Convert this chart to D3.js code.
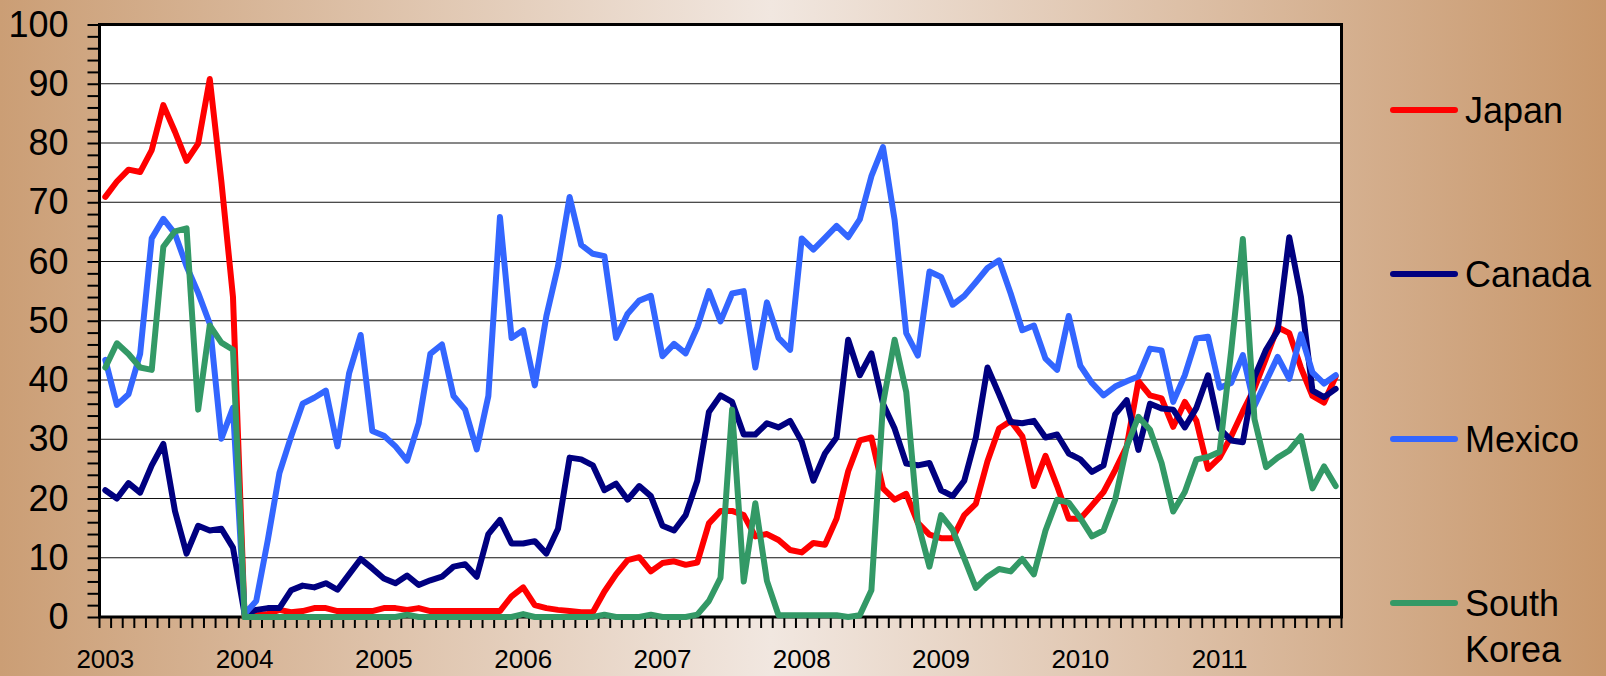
<!DOCTYPE html>
<html>
<head>
<meta charset="utf-8">
<script src="https://cdn.jsdelivr.net/npm/d3@7"></script>
<style>
  html, body { margin: 0; padding: 0; }
  body { width: 1606px; height: 676px; overflow: hidden; }
  svg { display: block; font-family: "Liberation Sans", Arial, sans-serif; }
</style>
</head>
<body>
<script>

// monthly categories, Jan 2003 .. Nov 2011
var months = d3.timeMonth.range(new Date(2003, 0, 1), new Date(2011, 11, 1));
var yearLabels = ['2003', '2004', '2005', '2006', '2007', '2008', '2009', '2010', '2011'];
var yTicks = [0, 10, 20, 30, 40, 50, 60, 70, 80, 90, 100];
var countries = ['Japan', 'Canada', 'Mexico', 'South Korea'];

var japan = [
    70.9, 73.5, 75.5, 75.1, 78.8, 86.4, 81.9, 77.0, 79.9, 90.8, 73.5, 54.0,
    0, 0.3, 0.5, 1.2, 0.8, 1.0, 1.5, 1.5, 1.0, 1.0, 1.0, 1.0,
    1.5, 1.5, 1.2, 1.5, 1.0, 1.0, 1.0, 1.0, 1.0, 1.0, 1.0, 3.5,
    5.0, 2.0, 1.5, 1.2, 1.0, 0.8, 0.8, 4.3, 7.2, 9.6, 10.1, 7.7,
    9.1, 9.4, 8.8, 9.2, 15.8, 17.9, 17.9, 17.2, 13.6, 14.0, 13.0, 11.3,
    10.9, 12.5, 12.2, 16.6, 24.6, 29.8, 30.3, 21.7, 19.8, 20.8, 15.9, 13.9,
    13.3, 13.3, 17.2, 19.1, 26.3, 31.8, 33.1, 30.5, 22.1, 27.2, 22.1, 16.6,
    16.6, 18.8, 21.1, 24.8, 28.8, 39.8, 37.4, 36.9, 32.1, 36.3, 33.1, 25.0,
    26.9, 30.5, 34.7, 38.6, 43.7, 48.9, 47.9, 42.1, 37.3, 36.2, 40.6
];

var canada = [
    21.4, 20.0, 22.6, 21.0, 25.6, 29.2, 17.9, 10.7, 15.4, 14.6, 14.9, 11.7,
    0.5, 1.2, 1.5, 1.5, 4.5, 5.3, 5.0, 5.7, 4.6, 7.2, 9.8, 8.2,
    6.5, 5.7, 7.0, 5.4, 6.2, 6.8, 8.5, 8.9, 6.8, 14.0, 16.4, 12.4,
    12.4, 12.8, 10.7, 14.9, 26.9, 26.6, 25.6, 21.4, 22.5, 19.8, 22.1, 20.4,
    15.4, 14.6, 17.2, 23.0, 34.6, 37.4, 36.3, 30.8, 30.8, 32.7, 32.0, 33.1,
    29.6, 23.0, 27.6, 30.3, 46.8, 40.8, 44.5, 36.0, 31.8, 25.9, 25.6, 26.0,
    21.4, 20.4, 23.0, 30.3, 42.1, 37.6, 32.9, 32.7, 33.1, 30.3, 30.8, 27.6,
    26.6, 24.5, 25.6, 34.2, 36.6, 28.2, 36.0, 35.2, 35.0, 32.0, 35.3, 40.8,
    31.8, 29.8, 29.5, 40.5, 45.1, 48.3, 64.1, 54.1, 38.2, 37.1, 38.5
];

var mexico = [
    43.4, 35.8, 37.6, 44.4, 63.9, 67.2, 64.7, 59.2, 54.7, 49.5, 30.1, 35.3,
    0.5, 2.7, 13.0, 24.3, 30.4, 36.0, 37.0, 38.2, 28.8, 41.1, 47.6, 31.4,
    30.6, 28.8, 26.4, 32.7, 44.4, 46.0, 37.3, 35.0, 28.3, 37.3, 67.5, 47.1,
    48.4, 39.1, 50.8, 59.2, 70.9, 62.8, 61.3, 60.9, 47.1, 51.2, 53.4, 54.2,
    44.0, 46.1, 44.5, 48.9, 55.0, 49.9, 54.6, 55.0, 42.1, 53.1, 47.1, 45.1,
    63.9, 62.0, 64.0, 66.0, 64.1, 67.1, 74.4, 79.3, 67.0, 47.9, 44.1, 58.3,
    57.4, 52.7, 54.2, 56.5, 58.9, 60.2, 54.6, 48.4, 49.2, 43.6, 41.7, 50.8,
    42.4, 39.5, 37.4, 38.9, 39.8, 40.6, 45.3, 45.0, 36.3, 40.8, 47.0, 47.3,
    38.7, 39.5, 44.2, 35.6, 39.8, 43.9, 40.2, 47.7, 41.3, 39.4, 40.8
];

var southKorea = [
    42.1, 46.2, 44.4, 42.1, 41.7, 62.5, 65.1, 65.6, 35.0, 49.2, 46.3, 45.1,
    0, 0, 0, 0, 0, 0, 0, 0, 0, 0, 0, 0,
    0, 0, 0.4, 0, 0, 0, 0, 0, 0, 0, 0, 0,
    0.5, 0, 0, 0, 0, 0, 0, 0.4, 0, 0, 0, 0.4,
    0, 0, 0, 0.4, 2.7, 6.6, 35.0, 6.0, 19.2, 6.1, 0.3, 0.3,
    0.3, 0.3, 0.3, 0.3, 0, 0.3, 4.5, 36.0, 46.8, 38.0, 15.9, 8.5,
    17.2, 14.7, 9.9, 4.9, 6.8, 8.1, 7.7, 9.8, 7.2, 14.6, 19.8, 19.3,
    16.7, 13.6, 14.6, 19.8, 28.8, 33.8, 31.6, 26.0, 17.8, 21.1, 26.6, 27.0,
    27.9, 45.0, 63.8, 33.4, 25.3, 26.9, 28.1, 30.5, 21.7, 25.4, 22.1
];

var colors = ['#ff0000', '#000080', '#3366ff', '#339966'];
var series = [japan, canada, mexico, southKorea];

var w = 1606,
    h = 676;

var plot = {left: 99.5, top: 24.5, right: 1341.5, bottom: 617};

var svg = d3.select('body')
    .append('svg')
    .attr('width', w)
    .attr('height', h);

// background gradient
var grad = svg.append('defs')
    .append('linearGradient')
    .attr('id', 'bg')
    .attr('x1', '0%').attr('x2', '100%')
    .attr('y1', '0%').attr('y2', '0%');
grad.append('stop').attr('offset', '0%').attr('stop-color', '#cb9e75');
grad.append('stop').attr('offset', '48%').attr('stop-color', '#f1e7e0');
grad.append('stop').attr('offset', '100%').attr('stop-color', '#c8976b');

svg.append('rect')
    .attr('width', w)
    .attr('height', h)
    .attr('fill', 'url(#bg)');

var x = d3.scaleBand()
    .domain(d3.range(months.length))
    .range([plot.left, plot.right]);
var bw = x.bandwidth();

var y = d3.scaleLinear()
    .domain([0, 100])
    .range([plot.bottom, plot.top]);

// plot area
svg.append('rect')
    .attr('x', plot.left)
    .attr('y', plot.top)
    .attr('width', plot.right - plot.left)
    .attr('height', plot.bottom - plot.top)
    .attr('fill', '#fff');

// gridlines
svg.append('g')
    .selectAll('line')
    .data(yTicks.slice(1, -1))
    .enter()
    .append('line')
    .attr('x1', plot.left)
    .attr('x2', plot.right)
    .attr('y1', function(d){ return y(d); })
    .attr('y2', function(d){ return y(d); })
    .attr('stroke', '#111')
    .attr('stroke-width', 1);

// y axis: minor ticks every 2, labels every 10
var yAxis = d3.axisLeft(y)
    .tickValues(d3.range(0, 101, 2))
    .tickSize(12)
    .tickPadding(19)
    .tickFormat(function(d){ return d % 10 === 0 ? d : ''; });

var yG = svg.append('g')
    .attr('transform', 'translate(' + plot.left + ',0)')
    .call(yAxis);
yG.select('.domain').remove();
yG.selectAll('line').attr('stroke', '#000').attr('stroke-width', 2);
yG.selectAll('text')
    .attr('fill', '#000')
    .style('font-size', '36px')
    .style('font-family', '"Liberation Sans", Arial, sans-serif');

// x axis ticks at month boundaries
var bounds = d3.range(months.length).map(function(i){ return x(i); }).concat([plot.right]);
svg.append('g')
    .selectAll('line')
    .data(bounds)
    .enter()
    .append('line')
    .attr('x1', function(d){ return d; })
    .attr('x2', function(d){ return d; })
    .attr('y1', plot.bottom)
    .attr('y2', plot.bottom + 11)
    .attr('stroke', '#000')
    .attr('stroke-width', 2);

// year labels centred on January of each year
svg.append('g')
    .selectAll('text')
    .data(yearLabels)
    .enter()
    .append('text')
    .attr('x', function(d, i){ return x(i * 12) + bw / 2; })
    .attr('y', 668)
    .attr('text-anchor', 'middle')
    .style('font-size', '26px')
    .text(function(d){ return d; });

// frame
svg.append('rect')
    .attr('x', plot.left)
    .attr('y', plot.top)
    .attr('width', plot.right - plot.left)
    .attr('height', plot.bottom - plot.top)
    .attr('fill', 'none')
    .attr('stroke', '#000')
    .attr('stroke-width', 3);

// series
var line = d3.line()
    .x(function(d, i){ return x(i) + bw / 2; })
    .y(function(d){ return y(d); });

svg.append('g')
    .selectAll('path')
    .data(series)
    .enter()
    .append('path')
    .attr('d', line)
    .attr('fill', 'none')
    .attr('stroke', function(d, i){ return colors[i]; })
    .attr('stroke-width', 6)
    .attr('stroke-linejoin', 'round')
    .attr('stroke-linecap', 'round');

// legend
var legendY = [110, 274, 439, 603];
var legend = svg.append('g')
    .selectAll('g')
    .data(countries)
    .enter()
    .append('g')
    .attr('transform', function(d, i){ return 'translate(1393,' + legendY[i] + ')'; });

legend.append('line')
    .attr('x1', 0)
    .attr('x2', 62)
    .attr('stroke', function(d, i){ return colors[i]; })
    .attr('stroke-width', 6)
    .attr('stroke-linecap', 'round');

var ltext = legend.append('text')
    .attr('x', 72)
    .attr('y', 13)
    .style('font-size', '36px');

ltext.selectAll('tspan')
    .data(function(d){ return d.split(' '); })
    .enter()
    .append('tspan')
    .attr('x', 72)
    .attr('dy', function(d, i){ return i === 0 ? 0 : 46; })
    .text(function(d){ return d; });

</script>
</body>
</html>
